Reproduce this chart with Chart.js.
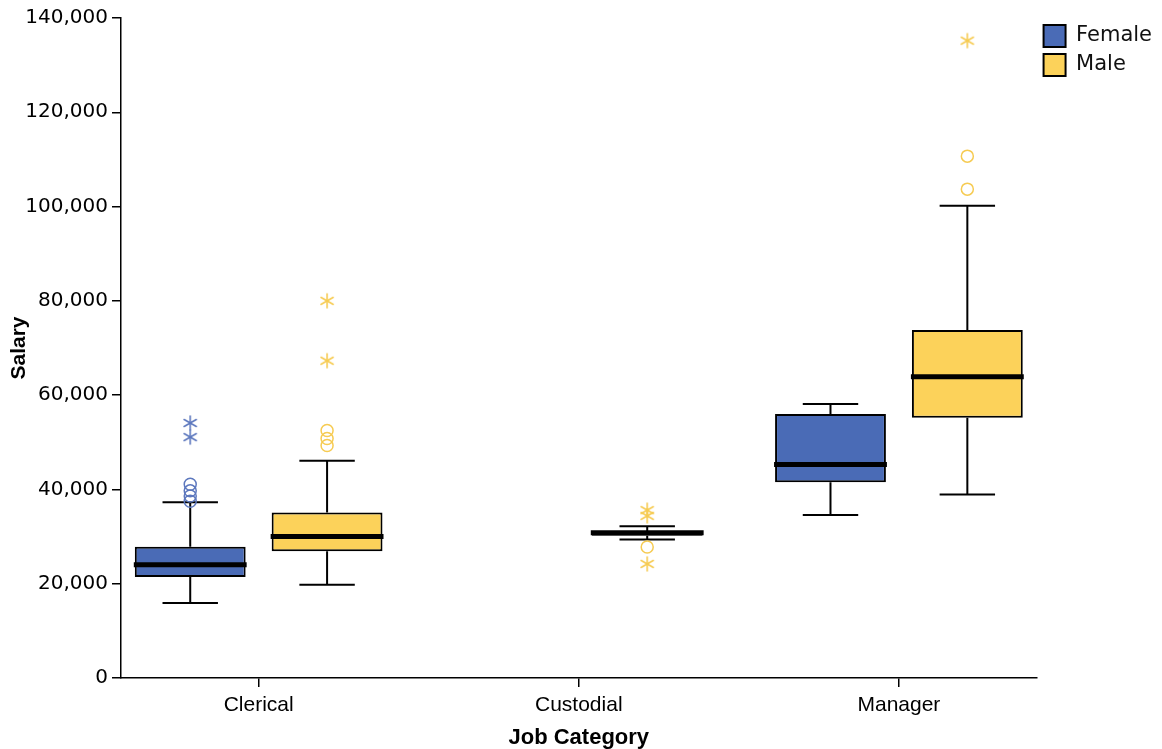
<!DOCTYPE html>
<html>
<head>
<meta charset="utf-8">
<title>Salary by Job Category</title>
<script src="https://cdn.jsdelivr.net/npm/chart.js@4.4.1/dist/chart.umd.min.js"></script>
<style>
  html, body { margin: 0; padding: 0; background: #fff; }
  .chart-wrap { position: relative; width: 1162px; height: 749px; }
</style>
</head>
<body>
<div class="chart-wrap"><canvas id="salaryBox"></canvas></div>
<script>
'use strict';

// ============================================================
// DATA
// ============================================================
const categories = ['Clerical', 'Custodial', 'Manager'];
const yTicks = [0, 20000, 40000, 60000, 80000, 100000, 120000, 140000];

// Female box stats (no female custodial staff)
const femaleMin    = [15900, null, 34600];
const femaleQ1     = [21400, null, 41500];
const femaleMedian = [24000, null, 45300];
const femaleQ3     = [27850, null, 56000];
const femaleMax    = [37300, null, 58100];
const femaleOutliers = [[37500, 38600, 39700, 41100], [], []];
const femaleExtremes = [[51100, 54100], [], []];

// Male box stats
const maleMin    = [19800, 29400, 38900];
const maleQ1     = [26900, 30150, 55200];
const maleMedian = [30000, 30800, 63900];
const maleQ3     = [35100, 31050, 73800];
const maleMax    = [46100, 32200, 100200];
const maleOutliers = [[49300, 50800, 52500], [27800], [103700, 110700]];
const maleExtremes = [[67300, 80000], [24200, 34400, 35600], [135200]];

// ============================================================
// STYLE
// ============================================================
const FEMALE_COLOR = '#4A6BB6';
const MALE_COLOR   = '#FCD25A';
const FEMALE_MARK  = '#5D78BE';
const MALE_MARK    = '#F6CB52';
const CATEGORY_PCT = 0.855;
const BAR_PCT      = 0.81;
const GROUP_OFFSET = CATEGORY_PCT / 4;   // centre of each half of the group

// asterisk marker for extreme values
function asterisk(color) {
  const c = document.createElement('canvas');
  c.width = 18; c.height = 18;
  const g = c.getContext('2d');
  g.strokeStyle = color; g.lineWidth = 1.6; g.lineCap = 'round';
  g.translate(9, 9);
  for (let k = 0; k < 3; k++) {
    g.beginPath(); g.moveTo(0, -7); g.lineTo(0, 7); g.stroke();
    g.rotate(Math.PI / 3);
  }
  return c;
}

function boxPoints(mins, q1s, meds, q3s, maxs) {
  const pts = [];
  categories.forEach((c, i) => {
    if (meds[i] == null) return;
    pts.push({ x: i, y: [q1s[i], q3s[i]], min: mins[i], med: meds[i], max: maxs[i] });
  });
  return pts;
}

function markPoints(groups, offset) {
  const pts = [];
  groups.forEach((vals, i) => vals.forEach(v => pts.push({ x: i + offset, y: v })));
  return pts;
}

// ============================================================
// WHISKERS + MEDIAN (drawn through the chart's own scales)
// ============================================================
function eachBox(chart, fn) {
  chart.data.datasets.forEach((ds, di) => {
    if (!ds.isBox) return;
    const meta = chart.getDatasetMeta(di);
    if (meta.hidden) return;
    meta.data.forEach((bar, i) => {
      const { x, width } = bar.getProps(['x', 'width'], true);
      fn(ds.data[i], x, width);
    });
  });
}

const boxPlotPlugin = {
  id: 'boxPlot',
  beforeDatasetsDraw(chart) {
    const ctx = chart.ctx, y = chart.scales.y;
    ctx.save();
    ctx.strokeStyle = '#000';
    ctx.lineWidth = 2;
    eachBox(chart, (p, x, w) => {
      const cap = w / 4;
      const yMin = y.getPixelForValue(p.min), yMax = y.getPixelForValue(p.max);
      const yQ1 = y.getPixelForValue(p.y[0]), yQ3 = y.getPixelForValue(p.y[1]);
      ctx.beginPath();
      ctx.moveTo(x, yQ3); ctx.lineTo(x, yMax);
      ctx.moveTo(x - cap, yMax); ctx.lineTo(x + cap, yMax);
      ctx.moveTo(x, yQ1); ctx.lineTo(x, yMin);
      ctx.moveTo(x - cap, yMin); ctx.lineTo(x + cap, yMin);
      ctx.stroke();
    });
    ctx.restore();
  },
  afterDatasetsDraw(chart) {
    const ctx = chart.ctx, y = chart.scales.y;
    ctx.save();
    ctx.strokeStyle = '#000';
    ctx.lineWidth = 5;
    eachBox(chart, (p, x, w) => {
      const yMed = y.getPixelForValue(p.med);
      ctx.beginPath();
      ctx.moveTo(x - w / 2 - 1, yMed); ctx.lineTo(x + w / 2 + 1, yMed);
      ctx.stroke();
    });
    ctx.restore();
  }
};

// ============================================================
// CHART
// ============================================================
const markBase = { type: 'scatter', pointRadius: 6, pointHoverRadius: 6, pointBorderWidth: 1.5,
                   pointBackgroundColor: 'rgba(0,0,0,0)' };

new Chart(document.getElementById('salaryBox'), {
  type: 'bar',
  data: {
    datasets: [
      { label: 'Female', isBox: true, data: boxPoints(femaleMin, femaleQ1, femaleMedian, femaleQ3, femaleMax),
        backgroundColor: FEMALE_COLOR, borderColor: '#000', borderWidth: 2, borderSkipped: false,
        categoryPercentage: CATEGORY_PCT, barPercentage: BAR_PCT },
      { label: 'Male', isBox: true, data: boxPoints(maleMin, maleQ1, maleMedian, maleQ3, maleMax),
        backgroundColor: MALE_COLOR, borderColor: '#000', borderWidth: 2, borderSkipped: false,
        categoryPercentage: CATEGORY_PCT, barPercentage: BAR_PCT },
      { ...markBase, label: 'Female outliers', data: markPoints(femaleOutliers, -GROUP_OFFSET),
        pointStyle: 'circle', pointBorderColor: FEMALE_MARK },
      { ...markBase, label: 'Female extremes', data: markPoints(femaleExtremes, -GROUP_OFFSET),
        pointStyle: asterisk(FEMALE_MARK) },
      { ...markBase, label: 'Male outliers', data: markPoints(maleOutliers, GROUP_OFFSET),
        pointStyle: 'circle', pointBorderColor: MALE_MARK },
      { ...markBase, label: 'Male extremes', data: markPoints(maleExtremes, GROUP_OFFSET),
        pointStyle: asterisk(MALE_MARK) },
    ]
  },
  options: {
    responsive: true, maintainAspectRatio: false, animation: false,
    layout: { padding: { top: 18, right: 0, left: 0, bottom: 0 } },
    plugins: {
      tooltip: { enabled: false },
      legend: {
        position: 'right', align: 'start',
        labels: {
          boxWidth: 22, boxHeight: 22, padding: 7, color: '#111',
          font: { family: 'DejaVu Sans', size: 21 },
          filter: (item, data) => !!data.datasets[item.datasetIndex].isBox,
        }
      }
    },
    scales: {
      x: {
        type: 'linear', min: -0.43, max: 2.43, offset: false,
        afterBuildTicks: s => { s.ticks = categories.map((c, i) => ({ value: i })); },
        ticks: { includeBounds: false, color: '#000', padding: 6,
                 font: { family: 'Liberation Sans', size: 21 },
                 callback: v => categories[v] },
        grid: { drawOnChartArea: false, offset: false, tickLength: 9, color: '#000', lineWidth: 1.5 },
        border: { color: '#000', width: 1.5 },
        title: { display: true, text: 'Job Category', color: '#000', padding: { top: 0, bottom: 0 },
                 font: { family: 'Liberation Sans', size: 22, weight: 'bold', lineHeight: 1 } },
        afterFit: s => { s.height = 71; }
      },
      y: {
        min: 0, max: 140000,
        afterBuildTicks: s => { s.ticks = yTicks.map(v => ({ value: v })); },
        ticks: { color: '#000', padding: 4, font: { family: 'DejaVu Sans', size: 20 },
                 callback: v => v.toLocaleString('en-US') },
        grid: { drawOnChartArea: false, tickLength: 9, color: '#000', lineWidth: 1.5 },
        border: { color: '#000', width: 1.5 },
        title: { display: true, text: 'Salary', color: '#000', padding: { top: 7, bottom: 0 },
                 font: { family: 'Liberation Sans', size: 21, weight: 'bold' } },
        afterFit: s => { s.width = 121; }
      }
    }
  },
  plugins: [boxPlotPlugin]
});
</script>
</body>
</html>
